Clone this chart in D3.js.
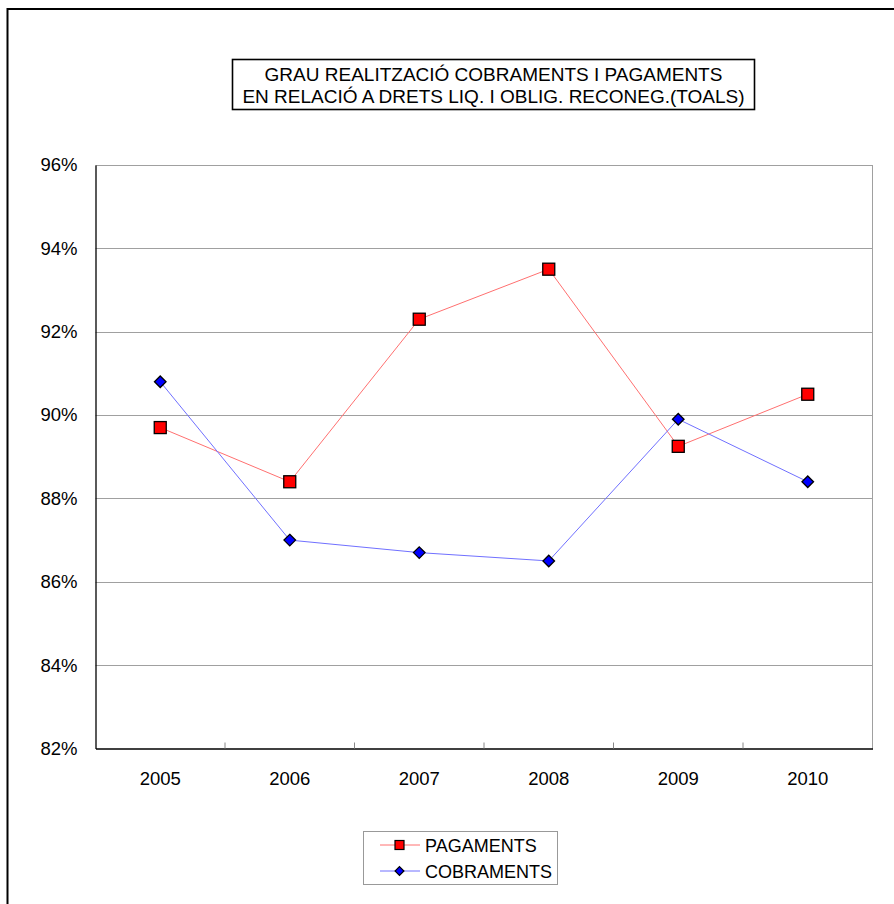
<!DOCTYPE html>
<html><head><meta charset="utf-8">
<script src="https://cdn.jsdelivr.net/npm/d3@7"></script>
<style>body{margin:0;background:#fff}svg{display:block}text{font-family:"Liberation Sans",Arial,sans-serif}</style>
</head><body>
<svg id="c" width="894" height="904"></svg>
<script>
const years = ["2005","2006","2007","2008","2009","2010"];
const pagaments = [89.7, 88.4, 92.3, 93.5, 89.25, 90.5];
const cobraments = [90.8, 87.0, 86.7, 86.5, 89.9, 88.4];
const yTicks = [82, 84, 86, 88, 90, 92, 94, 96];
const titleLines = ["GRAU REALITZACIÓ COBRAMENTS I PAGAMENTS", "EN RELACIÓ A DRETS LIQ. I OBLIG. RECONEG.(TOALS)"];

const svg = d3.select("#c");
svg.append("rect").attr("x",7.5).attr("y",9).attr("width",900).attr("height",910)
  .attr("fill","none").attr("stroke","#000").attr("stroke-width",2);

const L=95.5, R=872.5, T=165, B=748.5;
const x = d3.scaleBand().domain(years).range([L,R]);
const y = d3.scaleLinear().domain([82,96]).range([B,T]);

svg.append("g").selectAll("line").data(yTicks.filter(d=>d>82)).join("line")
  .attr("x1",L).attr("x2",R).attr("y1",d=>Math.round(y(d))+0.5).attr("y2",d=>Math.round(y(d))+0.5)
  .attr("stroke","#a0a0a0").attr("stroke-width",1);
svg.append("line").attr("x1",R).attr("x2",R).attr("y1",T).attr("y2",B).attr("stroke","#a0a0a0");

const ya = svg.append("g").attr("transform",`translate(${L},0)`)
  .call(d3.axisLeft(y).tickValues(yTicks).tickSize(0).tickPadding(18).tickFormat(d=>d+"%"));
ya.select(".domain").attr("stroke","#000").attr("stroke-width",1.3);
ya.selectAll("text").attr("font-size",18.5).attr("fill","#000").attr("font-family","Liberation Sans, Arial, sans-serif");

const xa = svg.append("g").attr("transform",`translate(0,${B})`)
  .call(d3.axisBottom(x).tickSize(0).tickPadding(23));
xa.select(".domain").attr("stroke","#000").attr("stroke-width",1.3);
xa.selectAll("text").attr("font-size",18.5).attr("fill","#000").attr("font-family","Liberation Sans, Arial, sans-serif");
svg.append("g").selectAll("line").data(years.slice(1)).join("line")
  .attr("x1",d=>x(d)).attr("x2",d=>x(d)).attr("y1",B).attr("y2",B-6)
  .attr("stroke","#888");

const cx = d => x(d)+x.bandwidth()/2;
const line = d3.line().x((d,i)=>cx(years[i])).y(d=>y(d));

svg.append("path").datum(pagaments).attr("d",line).attr("fill","none").attr("stroke","#ff7070").attr("stroke-width",1);
svg.append("path").datum(cobraments).attr("d",line).attr("fill","none").attr("stroke","#7070ff").attr("stroke-width",1);

svg.append("g").selectAll("rect").data(pagaments).join("rect")
  .attr("x",(d,i)=>cx(years[i])-6).attr("y",d=>y(d)-6).attr("width",12).attr("height",12)
  .attr("fill","#ff0000").attr("stroke","#000").attr("stroke-width",1.3);
const diamond = d3.symbol().type(d3.symbolDiamond2).size(85);
svg.append("g").selectAll("path").data(cobraments).join("path")
  .attr("d",diamond).attr("transform",(d,i)=>`translate(${cx(years[i])},${y(d)})`)
  .attr("fill","#0000ff").attr("stroke","#000").attr("stroke-width",1.3);

svg.append("rect").attr("x",232.5).attr("y",59.5).attr("width",522).attr("height",50)
  .attr("fill","#fff").attr("stroke","#000").attr("stroke-width",1.6);
svg.append("g").selectAll("text").data(titleLines).join("text")
  .attr("x",493.5).attr("y",(d,i)=>81+i*21.5).attr("text-anchor","middle")
  .attr("font-size",19).attr("fill","#000").text(d=>d);

const lg = svg.append("g");
lg.append("rect").attr("x",363.5).attr("y",831.5).attr("width",194).attr("height",53)
  .attr("fill","#fff").attr("stroke","#999").attr("stroke-width",1);
const series = [{name:"PAGAMENTS",c:"#ff7070",type:"sq"},{name:"COBRAMENTS",c:"#7070ff",type:"di"}];
series.forEach((s,i)=>{
  const yy = 845 + i*26;
  lg.append("line").attr("x1",380).attr("x2",420).attr("y1",yy).attr("y2",yy).attr("stroke",s.c);
  if(s.type==="sq") lg.append("rect").attr("x",395).attr("y",yy-4.5).attr("width",9).attr("height",9)
    .attr("fill","#f00").attr("stroke","#000").attr("stroke-width",1.2);
  else lg.append("path").attr("d",d3.symbol().type(d3.symbolDiamond2).size(50)).attr("transform",`translate(399.5,${yy})`)
    .attr("fill","#00f").attr("stroke","#000").attr("stroke-width",1.2);
  lg.append("text").attr("x",425).attr("y",yy+6.5).attr("font-size",18).attr("fill","#000").text(s.name);
});
</script>
</body></html>
